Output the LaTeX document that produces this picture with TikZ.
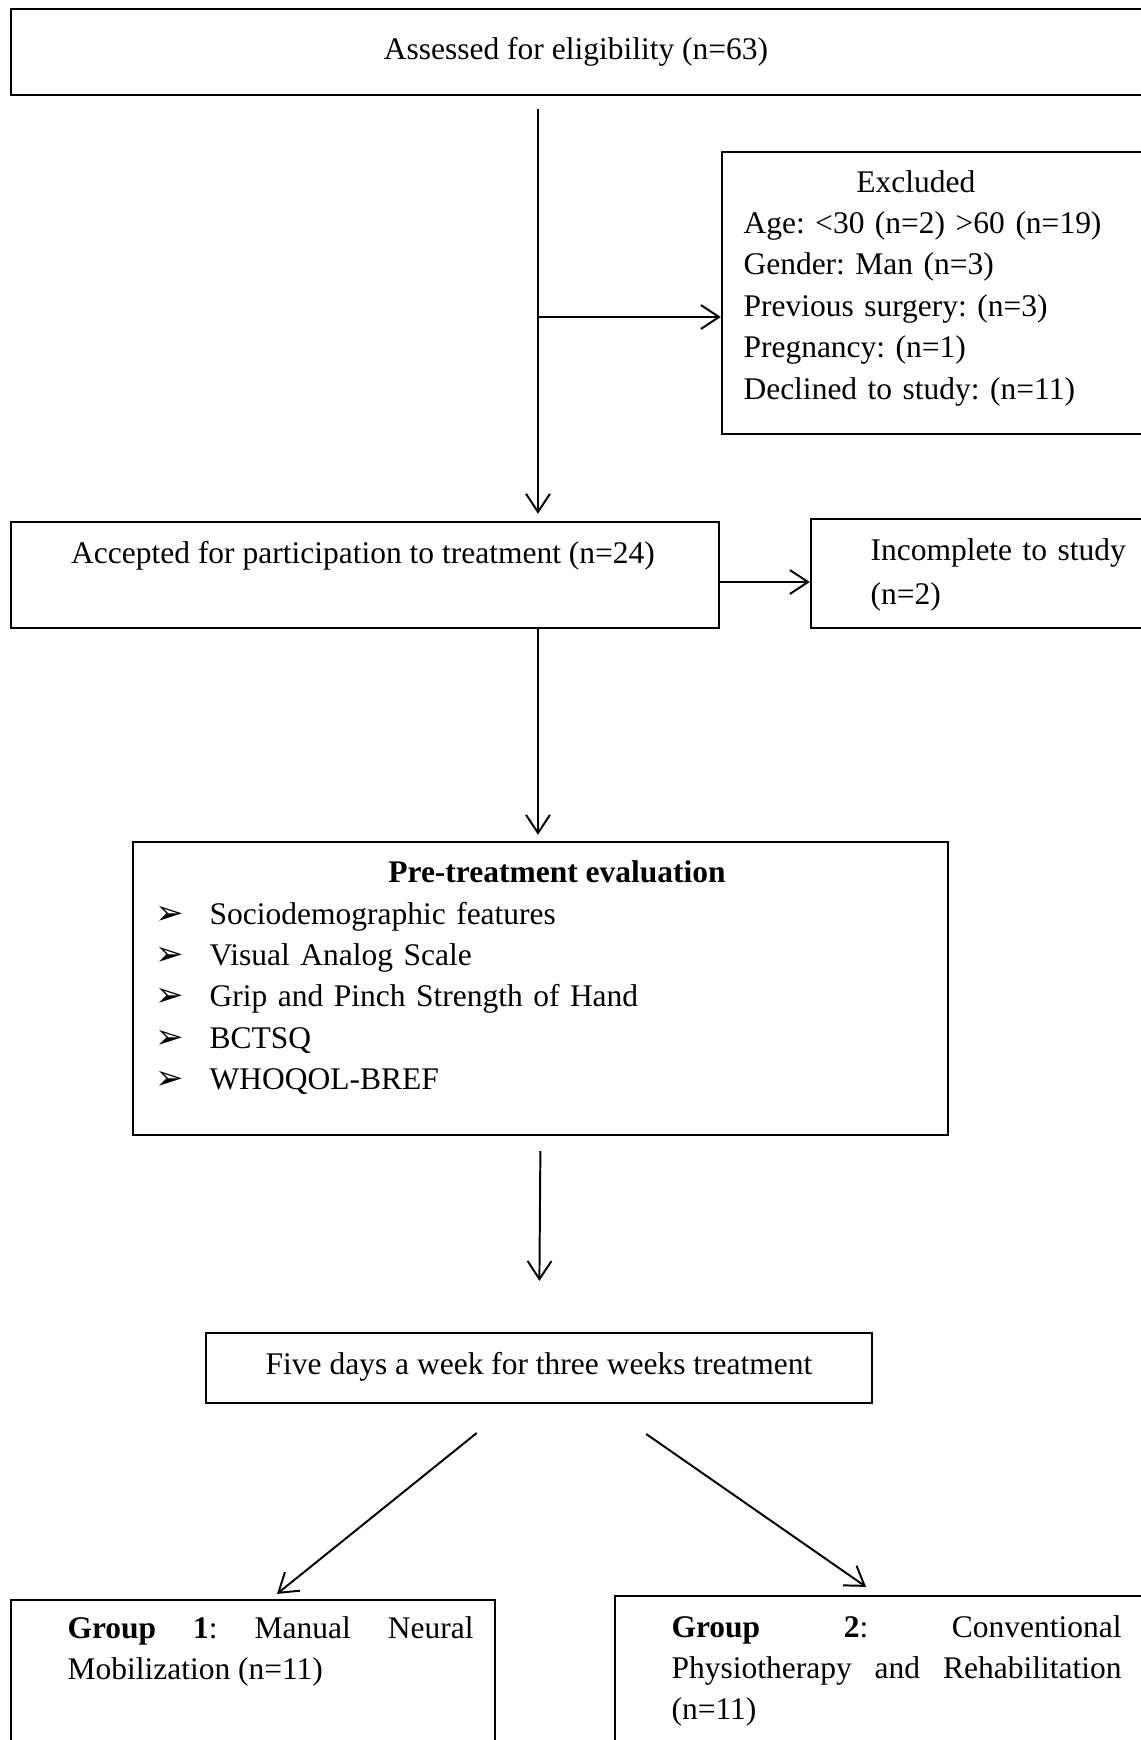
\documentclass[tikz,border=0pt]{standalone}
\usepackage{fontspec}
\setmainfont{Liberation Serif}
\newfontfamily\arrowfont{DejaVu Sans}
\usetikzlibrary{arrows.meta}
\frenchspacing
\hyphenpenalty=10000
\tolerance=9999
\newcommand{\pxu}{0.381pt}
\newcommand{\bul}{\makebox[20.6pt][l]{\arrowfont\fontsize{13}{13}\selectfont ➢}}
\tikzset{
  flowbox/.style={draw, line width=0.9pt, inner sep=0pt},
  flowline/.style={line width=0.75pt, -{Straight Barb[length=6.9pt,width=9.1pt]}},
  txt/.style={inner sep=0pt, font=\fontsize{12}{15.8}\selectfont},
}
\begin{document}
\begin{tikzpicture}[x=0.381pt, y=-0.381pt]
    \useasboundingbox[fill=white] (0,0) rectangle (1141,1740);

    % Boxes
    \node[flowbox, line width=1.1pt, minimum width=1139*\pxu, minimum height=86*\pxu] (assessed) at (580.5,52) {};
    \node[flowbox, minimum width=428*\pxu, minimum height=282*\pxu] (excluded) at (936,293) {};
    \node[flowbox, minimum width=708*\pxu, minimum height=106*\pxu] (accepted) at (365,575) {};
    \node[flowbox, minimum width=339*\pxu, minimum height=109*\pxu] (incomplete) at (980.5,573.5) {};
    \node[flowbox, minimum width=815*\pxu, minimum height=293*\pxu] (pretreat) at (540.5,988.5) {};
    \node[flowbox, minimum width=666*\pxu, minimum height=70*\pxu] (fivedays) at (539,1368) {};
    \node[flowbox, minimum width=484*\pxu, minimum height=150*\pxu] (groupone) at (253,1675) {};
    \node[flowbox, minimum width=535*\pxu, minimum height=154*\pxu] (grouptwo) at (882.5,1673) {};

    % Texts
    \node[txt, anchor=base] (assessedtxt) at (576,59) {Assessed for eligibility (n=63)};
    \node[txt, anchor=base west, text width=152pt, align=left] (excludedtxt) at (743,192)
        {\hspace*{43pt}Excluded\\
         Age: <30 (n=2) >60 (n=19)\\
         Gender: Man (n=3)\\
         Previous surgery: (n=3)\\
         Pregnancy: (n=1)\\
         Declined to study: (n=11)};
    \node[txt, anchor=base] (acceptedtxt) at (363,563) {Accepted for participation to treatment (n=24)};
    \node[txt, anchor=base west, text width=110pt, align=left] (incompletetxt) at (870,560)
        {Incomplete to study\\[1pt] (n=2)};
    \node[txt, anchor=base, font=\fontsize{12}{15.8}\selectfont\bfseries] (pretitle) at (557,882) {Pre-treatment evaluation};
    \node[txt, anchor=base west, text width=280pt, align=left] (prelist) at (155,924)
        {\bul Sociodemographic features\\
         \bul Visual Analog Scale\\
         \bul Grip and Pinch Strength of Hand\\
         \bul BCTSQ\\
         \bul WHOQOL-BREF};
    \node[txt, anchor=base] (fivetxt) at (539,1374) {Five days a week for three weeks treatment};
    \node[txt, anchor=base west, text width=154.7pt, align=justify] (grouponetxt) at (67,1638)
        {\textbf{Group 1}: Manual Neural Mobilization (n=11)};
    \node[txt, anchor=base west, text width=171.5pt, align=justify] (grouptwotxt) at (671,1637)
        {\textbf{Group 2}: Conventional Physiotherapy and Rehabilitation (n=11)};

    % Connectors
    \coordinate (spine) at (538,0);
    \coordinate (branch) at (538,317);
    \coordinate (incrow) at (0,582);
    \draw[flowline, shorten <=4.6pt, shorten >=2.7pt] (assessed.south -| spine) -- (accepted.north -| spine);
    \draw[flowline] (branch) -- (branch -| excluded.west);
    \draw[flowline] (accepted.east |- incrow) -- (incomplete.west |- incrow);
    \draw[flowline, shorten >=2.3pt] (accepted.south -| spine) -- (pretreat.north -| spine);
    \draw[flowline, shorten <=5.7pt, shorten >=19.4pt] (pretreat.south) -- (fivedays.north);
    \draw[flowline, shorten <=17.5pt, shorten >=3pt] ([xshift=-10.1pt]fivedays.south) -- ([xshift=6.8pt]groupone.north);
    \draw[flowline, shorten <=19.9pt, shorten >=5.3pt] ([xshift=24.5pt]fivedays.south) -- ([xshift=-1.9pt]grouptwo.north);

\end{tikzpicture}
\end{document}
